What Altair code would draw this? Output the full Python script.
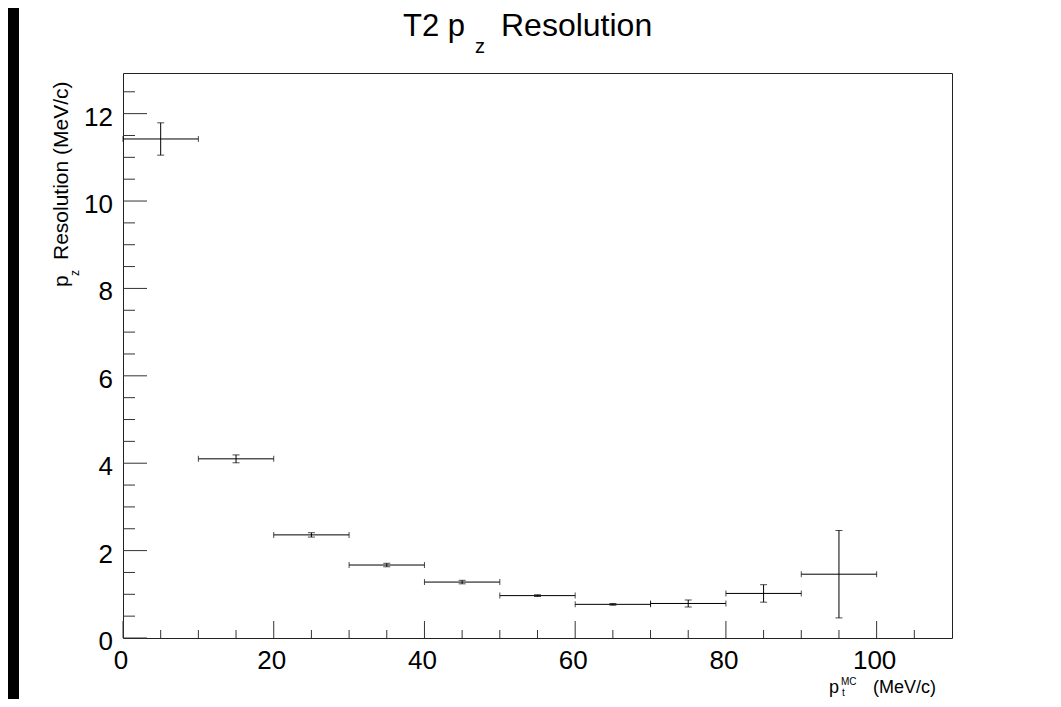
import altair as alt
import pandas as pd

# ---- data ----
PT_CENTER = [5, 15, 25, 35, 45, 55, 65, 75, 85, 95]
PT_LOW = [0, 10, 20, 30, 40, 50, 60, 70, 80, 90]
PT_HIGH = [10, 20, 30, 40, 50, 60, 70, 80, 90, 100]
PZ_RES = [11.42, 4.10, 2.36, 1.67, 1.28, 0.97, 0.77, 0.79, 1.02, 1.46]
PZ_ERR = [0.37, 0.09, 0.05, 0.04, 0.04, 0.02, 0.02, 0.08, 0.20, 1.00]

X_MAJOR = [0, 20, 40, 60, 80, 100]
X_MINOR = [5, 10, 15, 25, 30, 35, 45, 50, 55, 65, 70, 75, 85, 90, 95, 105]
Y_MAJOR = [0, 2, 4, 6, 8, 10, 12]
Y_MINOR = [0.5, 1, 1.5, 2.5, 3, 3.5, 4.5, 5, 5.5, 6.5, 7, 7.5,
           8.5, 9, 9.5, 10.5, 11, 11.5, 12.5]

X_DOMAIN = [0, 110]
Y_DOMAIN = [0, 12.93]

W, H = 829, 565
FONT = "Liberation Sans"
INK = "#222222"

df = pd.DataFrame({"pt": PT_CENTER, "lo": PT_LOW, "hi": PT_HIGH,
                   "res": PZ_RES, "err": PZ_ERR})
one = pd.DataFrame({"a": [1]})

xs = alt.Scale(domain=X_DOMAIN, nice=False, zero=False)
ys = alt.Scale(domain=Y_DOMAIN, nice=False, zero=False)

base = alt.Chart(df).transform_calculate(
    ylo="datum.res - datum.err", yhi="datum.res + datum.err")

# vertical error bars
verr = base.mark_rule(color="black", strokeWidth=1).encode(
    x=alt.X("pt:Q", scale=xs, axis=None),
    y=alt.Y("ylo:Q", scale=ys, axis=None),
    y2="yhi:Q",
)
vcap_lo = base.mark_tick(orient="horizontal", size=7, thickness=1, color="black").encode(
    x=alt.X("pt:Q", scale=xs, axis=None), y=alt.Y("ylo:Q", scale=ys, axis=None))
vcap_hi = base.mark_tick(orient="horizontal", size=7, thickness=1, color="black").encode(
    x=alt.X("pt:Q", scale=xs, axis=None), y=alt.Y("yhi:Q", scale=ys, axis=None))

# horizontal (bin width) error bars
herr = base.mark_rule(color="black", strokeWidth=1).encode(
    x=alt.X("lo:Q", scale=xs, axis=None), x2="hi:Q",
    y=alt.Y("res:Q", scale=ys, axis=None))
hcap_lo = base.mark_tick(orient="vertical", size=6, thickness=1, color="black").encode(
    x=alt.X("lo:Q", scale=xs, axis=None), y=alt.Y("res:Q", scale=ys, axis=None))
hcap_hi = base.mark_tick(orient="vertical", size=6, thickness=1, color="black").encode(
    x=alt.X("hi:Q", scale=xs, axis=None), y=alt.Y("res:Q", scale=ys, axis=None))


# inward ROOT-style ticks
def xticks(vals, length):
    return alt.Chart(pd.DataFrame({"v": vals})).mark_rule(color="#333333", strokeWidth=1).encode(
        x=alt.X("v:Q", scale=xs, axis=None), y=alt.value(H), y2=alt.value(H - length))


def yticks(vals, length):
    return alt.Chart(pd.DataFrame({"v": vals})).mark_rule(color="#333333", strokeWidth=1).encode(
        y=alt.Y("v:Q", scale=ys, axis=None), x=alt.value(0), x2=alt.value(length))


# tick labels drawn through the scales
xlab = alt.Chart(pd.DataFrame({"v": X_MAJOR})).mark_text(
    baseline="top", align="center", font=FONT, fontSize=26, color="black", dx=-2).encode(
    x=alt.X("v:Q", scale=xs, axis=None), y=alt.value(H + 10), text=alt.Text("v:Q", format="d"))
ylab = alt.Chart(pd.DataFrame({"v": Y_MAJOR})).mark_text(
    baseline="middle", align="right", font=FONT, fontSize=26, color="black", dy=4).encode(
    y=alt.Y("v:Q", scale=ys, axis=None), x=alt.value(-10), text=alt.Text("v:Q", format="d"))


def txt(s, x, y, size, angle=0):
    kw = dict(text=s, align="left", baseline="alphabetic", font=FONT,
              fontSize=size, color="black")
    if angle:
        kw["angle"] = angle
    return alt.Chart(one).mark_text(**kw).encode(x=alt.value(x), y=alt.value(y))


strip = alt.Chart(one).mark_rect(color="black").encode(
    x=alt.value(-115), x2=alt.value(-104), y=alt.value(-65), y2=alt.value(H + 70))

layers = [
    strip,
    xticks(X_MAJOR, 17), xticks(X_MINOR, 8),
    yticks(Y_MAJOR, 24), yticks(Y_MINOR, 12),
    verr, vcap_lo, vcap_hi, herr, hcap_lo, hcap_hi,
    xlab, ylab,
    # title  "T2 p_z Resolution"
    txt("T2 p", 280, -37, 31),
    txt("z", 352, -20, 20),
    txt("Resolution", 378, -37, 32),
    # y title  "p_z Resolution (MeV/c)"
    txt("p", -55, 214, 21, 270),
    txt("z", -44, 203, 12, 270),
    txt("Resolution (MeV/c)", -55, 187, 21, 270),
    # x title  "p_t^MC (MeV/c)"
    txt("p", 706, 620, 18),
    txt("MC", 718, 612, 10),
    txt("t", 719, 623, 10),
    txt("(MeV/c)", 750, 620, 18),
]

chart = alt.layer(*layers).properties(
    width=W, height=H,
    padding={"left": 115, "top": 65, "right": 101, "bottom": 61},
    autosize=alt.AutoSizeParams(type="none"),
    background="white",
).configure_view(stroke=INK, strokeWidth=1)

chart.save("out.html", embed_options={"renderer": "svg", "actions": False})
